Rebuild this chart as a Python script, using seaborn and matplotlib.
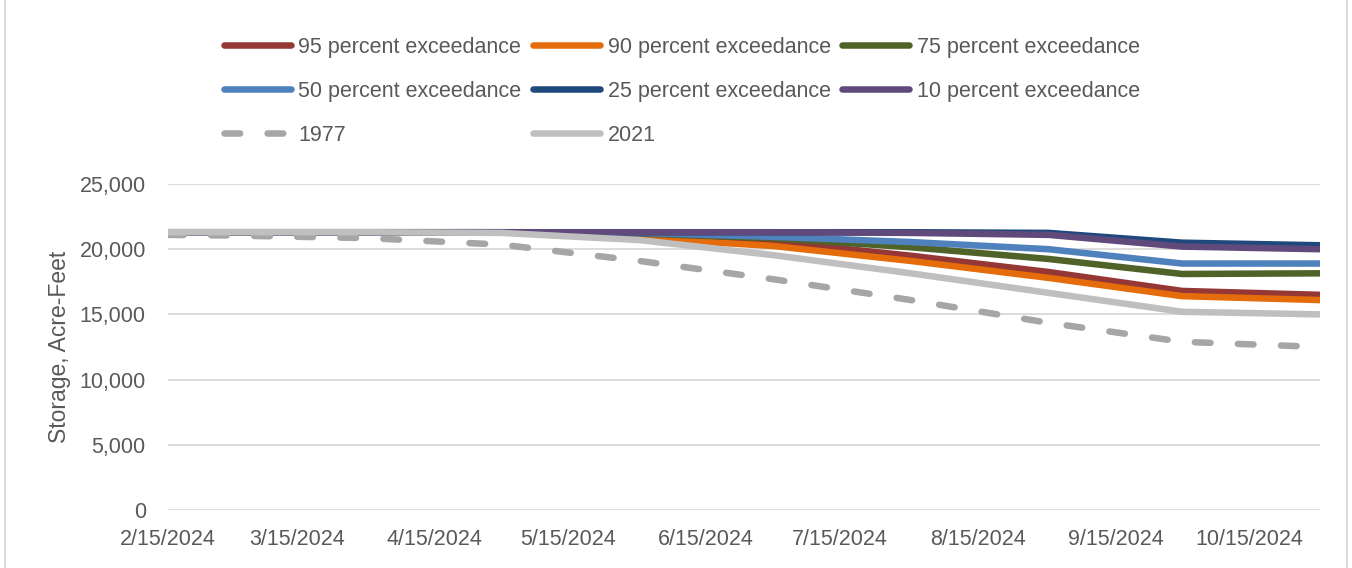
import numpy as np
import matplotlib
matplotlib.use("Agg")
import matplotlib.pyplot as plt
import matplotlib.dates as mdates
import matplotlib.ticker as mtick
import pandas as pd
import seaborn as sns
from matplotlib.patches import Rectangle

# month-end storage values (acre-feet)
dates = pd.to_datetime(["2024-02-15", "2024-02-29", "2024-03-31", "2024-04-30", "2024-05-31",
                        "2024-06-30", "2024-07-31", "2024-08-31", "2024-09-30", "2024-10-31"])

p95 = [21300, 21300, 21300, 21300, 21100, 20600, 19500, 18250, 16800, 16500]
p90 = [21300, 21300, 21300, 21300, 20850, 20250, 19100, 17800, 16400, 16100]
p75 = [21300, 21300, 21300, 21300, 21200, 20850, 20150, 19250, 18100, 18150]
p50 = [21300, 21300, 21300, 21300, 21250, 20950, 20550, 20000, 18900, 18900]
p25 = [21300, 21300, 21300, 21300, 21300, 21300, 21300, 21250, 20500, 20300]
p10 = [21300, 21300, 21300, 21300, 21300, 21300, 21250, 21100, 20200, 20000]
y1977 = [21100, 21050, 20850, 20350, 19100, 17700, 16100, 14350, 12900, 12500]
y2021 = [21300, 21300, 21300, 21250, 20700, 19550, 18150, 16650, 15200, 15000]

labels = ["95 percent exceedance", "90 percent exceedance", "75 percent exceedance",
          "50 percent exceedance", "25 percent exceedance", "10 percent exceedance",
          "1977", "2021"]
series = [p95, p90, p75, p50, p25, p10, y1977, y2021]
colors = ["#953735", "#E46C0A", "#4F6228", "#4F81BD", "#1F497D", "#604A7B", "#A6A6A6", "#BFBFBF"]

sns.set_style("white")
plt.rcParams['font.family'] = ['Liberation Sans', 'DejaVu Sans']
txt = "#595959"

fig = plt.figure(figsize=(13.52, 5.68), dpi=100)
ax = fig.add_axes([168 / 1352, 1 - 510 / 568, (1320 - 168) / 1352, (510 - 184) / 568])

handles = {}
for lab, vals, col in zip(labels, series, colors):
    df = pd.DataFrame({"date": dates, "value": vals})
    sns.lineplot(data=df, x="date", y="value", ax=ax, color=col, linewidth=4.7, label=lab)
    line = ax.lines[-1]
    line.set_solid_capstyle("round")
    line.set_solid_joinstyle("round")
    if lab == "1977":
        line.set_dashes((2.4, 4.2))
        line.set_dash_capstyle("round")
    handles[lab] = line

ax.get_legend().remove()

ax.set_ylim(0, 25000)
ax.set_xlim(pd.Timestamp("2024-02-15"), pd.Timestamp("2024-10-31"))
ax.yaxis.set_major_locator(mtick.MultipleLocator(5000))
ax.yaxis.set_major_formatter(mtick.StrMethodFormatter("{x:,.0f}"))
ax.xaxis.set_major_locator(mdates.DayLocator(bymonthday=15))
ax.xaxis.set_major_formatter(mtick.FuncFormatter(
    lambda v, p: "{d.month}/{d.day}/{d.year}".format(d=mdates.num2date(v))))

ax.grid(axis="y", color="#D9D9D9", linewidth=1.3)
ax.grid(axis="x", visible=False)
for s in ax.spines.values():
    s.set_visible(False)
ax.tick_params(axis="both", length=0, labelsize=15.5, labelcolor=txt)
ax.tick_params(axis="y", pad=16)
ax.tick_params(axis="x", pad=14)
ax.set_xlabel("")
ax.set_ylabel("Storage, Acre-Feet", fontsize=16.5, color=txt, labelpad=6)

# legend filled column-wise, so order gives the row layout of the original
order = ["95 percent exceedance", "50 percent exceedance", "1977",
         "90 percent exceedance", "25 percent exceedance", "2021",
         "75 percent exceedance", "10 percent exceedance"]
leg = fig.legend([handles[k] for k in order], order, ncol=3, frameon=False,
                 loc="upper left", bbox_to_anchor=(224 / 1352, 1 - 37 / 568),
                 fontsize=15.5, handlelength=3.1, handletextpad=0.35,
                 columnspacing=0.55, labelspacing=1.06, borderpad=0, borderaxespad=0)
for t in leg.get_texts():
    t.set_color(txt)

# chart area border
fig.patches.append(Rectangle((5 / 1352, -0.05), (1347 - 5) / 1352, 1.2,
                             transform=fig.transFigure, fill=False,
                             edgecolor="#D9D9D9", linewidth=1.3))

fig.savefig("out.png", dpi=100)
